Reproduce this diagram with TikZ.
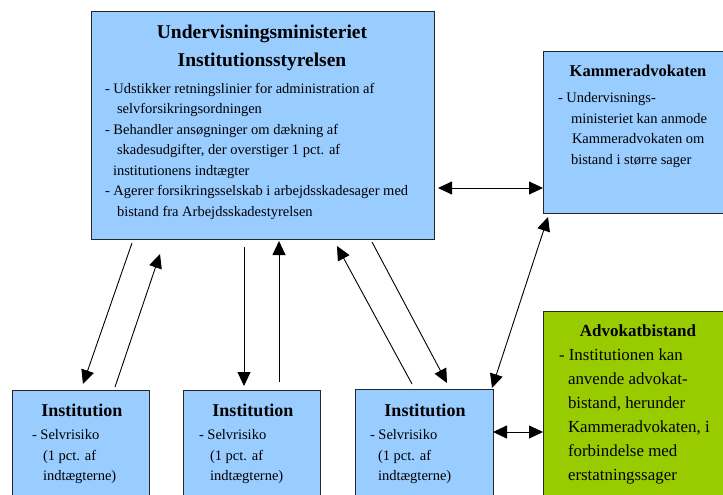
\documentclass[tikz,border=0pt]{standalone}
\usepackage{fontspec}
\setmainfont{Liberation Serif}
\usetikzlibrary{arrows.meta,calc}
\definecolor{boxblue}{HTML}{99CCFF}
\definecolor{boxgreen}{HTML}{99CC00}
\tikzset{
  box/.style={draw=black!85, line width=1pt, fill=boxblue, anchor=north west, inner sep=0pt, outer sep=0pt},
  gbox/.style={box, fill=boxgreen},
  txt/.style={anchor=north west, inner sep=0pt, outer sep=0pt, align=left, font=\fontsize{14.5}{20.5}\selectfont},
  gtxt/.style={txt, font=\fontsize{16.9}{24}\selectfont},
  ttl/.style={anchor=north, inner sep=0pt, outer sep=0pt, align=center},
  conn/.style={line width=0.9pt, -{Triangle[length=14pt,width=13pt]}},
  dconn/.style={line width=0.9pt, {Triangle[length=14pt,width=13pt]}-{Triangle[length=14pt,width=13pt]}},
}
\begin{document}
\begin{tikzpicture}[x=1pt,y=-1pt]
\useasboundingbox (0,0) rectangle (723,495);
\clip (0,0) rectangle (723,495);
% boxes
\node[box, minimum width=343pt, minimum height=227pt] (main) at (91,12) {};
\node[box, minimum width=190pt, minimum height=161pt] (kam) at (543,52) {};
\node[box, minimum width=137pt, minimum height=120pt] (inst1) at (12,390) {};
\node[box, minimum width=137pt, minimum height=120pt] (inst2) at (183,390) {};
\node[box, minimum width=138pt, minimum height=120pt] (inst3) at (355,389) {};
\node[gbox, minimum width=190pt, minimum height=200pt] (adv) at (543,311) {};
% main text
\node[ttl, font=\bfseries\fontsize{19.5}{28}\selectfont] (mainttl) at (262,25) {Undervisningsministeriet\\Institutionsstyrelsen};
\node[txt] (maintxt) at (105,83) {- Udstikker retningslinier for administration af\\
\hspace*{12pt}selvforsikringsordningen\\
- Behandler ansøgninger om dækning af\\
\hspace*{12pt}skadesudgifter, der overstiger 1 pct. af\\
\hspace*{8pt}institutionens indtægter\\
- Agerer forsikringsselskab i arbejdsskadesager med\\
\hspace*{12pt}bistand fra Arbejdsskadestyrelsen};
% kammeradvokaten
\node[ttl, font=\bfseries\fontsize{16.5}{20}\selectfont] (kamttl) at (638,65) {Kammeradvokaten};
\node[txt] (kamtxt) at (558,92.5) {- Undervisnings-\\
\hspace*{13pt}ministeriet kan anmode\\
\hspace*{14pt}Kammeradvokaten om\\
\hspace*{13pt}bistand i større sager};
% institutions
\node[ttl, font=\bfseries\fontsize{18}{20}\selectfont] (i1ttl) at (82,404) {Institution};
\node[txt] (i1txt) at (32,429.5) {- Selvrisiko\\\hspace*{11pt}(1 pct. af\\\hspace*{11pt}indtægterne)};
\node[ttl, font=\bfseries\fontsize{18}{20}\selectfont] (i2ttl) at (253,404) {Institution};
\node[txt] (i2txt) at (199,429.5) {- Selvrisiko\\\hspace*{11pt}(1 pct. af\\\hspace*{11pt}indtægterne)};
\node[ttl, font=\bfseries\fontsize{18}{20}\selectfont] (i3ttl) at (425,404) {Institution};
\node[txt] (i3txt) at (370,429.5) {- Selvrisiko\\\hspace*{8pt}(1 pct. af\\\hspace*{8pt}indtægterne)};
% advokatbistand
\node[ttl, font=\bfseries\fontsize{17}{20}\selectfont] (advttl) at (638,325) {Advokatbistand};
\node[gtxt] (advtxt) at (559,349) {- Institutionen kan\\
\hspace*{9pt}anvende advokat-\\
\hspace*{9pt}bistand, herunder\\
\hspace*{9pt}Kammeradvokaten, i\\
\hspace*{9pt}forbindelse med\\
\hspace*{9pt}erstatningssager};
% connectors
\draw[conn] ($(main.south west)+(41,4)$) -- ($(inst1.north west)+(71,-6)$);
\draw[conn] ($(inst1.north west)+(103,-3)$) -- ($(main.south west)+(69,15)$);
\draw[conn] ($(main.south west)+(153,8)$) -- ($(inst2.north west)+(61,-4)$);
\draw[conn] ($(inst2.north west)+(96,-8)$) -- ($(main.south west)+(188,2)$);
\draw[conn] ($(inst3.north west)+(57,-5)$) -- ($(main.south west)+(246,7)$);
\draw[conn] ($(main.south west)+(281,3)$) -- ($(inst3.north west)+(92,-6)$);
\draw[dconn] ($(main.south east)+(4,-51)$) -- ($(kam.south west)+(0,-25)$);
\draw[dconn] ($(kam.south west)+(5,4)$) -- ($(inst3.north east)+(-1,-1)$);
\draw[dconn] ($(inst3.north east)+(0,43)$) -- ($(adv.north west)+(0,121)$);
\end{tikzpicture}
\end{document}
